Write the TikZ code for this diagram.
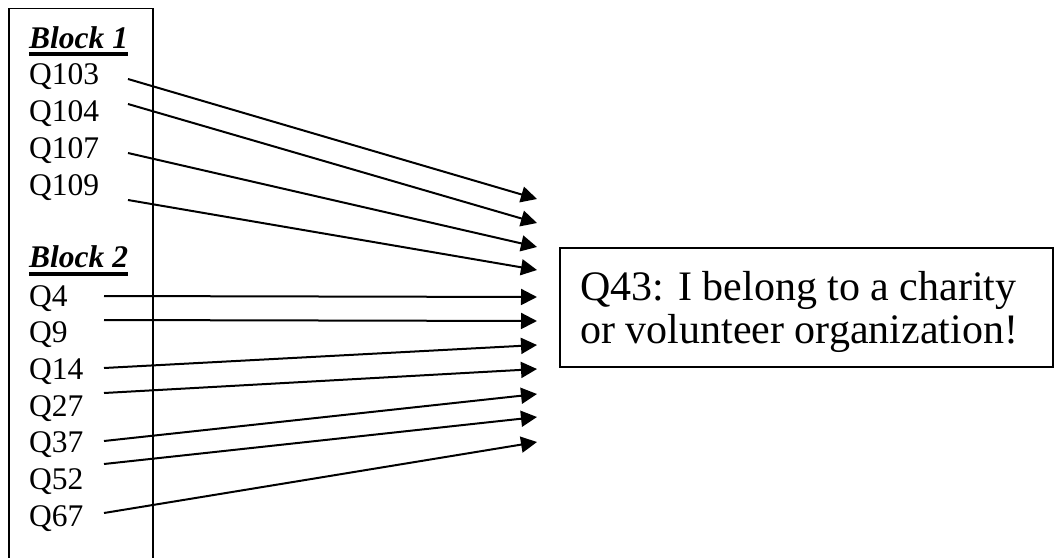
\documentclass[tikz,border=0pt]{standalone}
\usepackage{fontspec}
\setmainfont{Liberation Serif}
\usetikzlibrary{arrows.meta}
\begin{document}
\begin{tikzpicture}[x=1pt,y=-1pt,
  item/.style={anchor=base west,inner sep=0pt,font=\fontsize{31.5}{37}\selectfont},
  head/.style={item,font=\fontsize{31.5}{37}\selectfont\bfseries\itshape},
  frame/.style={line width=1.6pt},
  link/.style={line width=2pt,-{Triangle[length=16pt,width=16pt]}},
  rule/.style={line width=4pt}]
\useasboundingbox[fill=white] (0,0) rectangle (1055,557);
\clip (0,0) rectangle (1055,557);

% left column frame (open at the bottom)
\draw[frame] (9,560) -- (9,8.5) -- (153,8.5) -- (153,560);

% block headings with heavy underline
\node[head] (b1) at (29,48) {Block 1};
\draw[rule] ([yshift=-6pt]b1.base west) -- ([yshift=-6pt]b1.base east);
\node[head] (b2) at (29,267) {Block 2};
\draw[rule] ([yshift=-7pt]b2.base west) -- ([yshift=-7pt]b2.base east);

% question labels
\node[item] (q103) at (29,84)  {Q103};
\node[item] (q104) at (29,121) {Q104};
\node[item] (q107) at (29,158) {Q107};
\node[item] (q109) at (29,195) {Q109};
\node[item] (q4)   at (29,306) {Q4};
\node[item] (q9)   at (29,342) {Q9};
\node[item] (q14)  at (29,379) {Q14};
\node[item] (q27)  at (29,416) {Q27};
\node[item] (q37)  at (29,452) {Q37};
\node[item] (q52)  at (29,489) {Q52};
\node[item] (q67)  at (29,526) {Q67};

% target statement
\draw[frame] (560,248) rectangle (1053,367);
\node[item,font=\fontsize{42}{44}\selectfont] (t1) at (580,300) {Q43: I belong to a charity};
\node[item,font=\fontsize{42}{44}\selectfont] (t2) at (580,343) {or volunteer organization!};

% arrow start points
\coordinate (s103) at (128,79);
\coordinate (s104) at (128,104);
\coordinate (s107) at (128,153);
\coordinate (s109) at (128,200);
\coordinate (s4)   at (104,296);
\coordinate (s9)   at (104,320);
\coordinate (s14)  at (104,368);
\coordinate (s27)  at (104,393);
\coordinate (s37)  at (104,441);
\coordinate (s52)  at (104,464);
\coordinate (s67)  at (104,513);

% arrow tips, stacked in front of the statement
\coordinate (e1)  at (537,199);
\coordinate (e2)  at (537,223);
\coordinate (e3)  at (537,247);
\coordinate (e4)  at (537,270);
\coordinate (e5)  at (537,297);
\coordinate (e6)  at (537,321);
\coordinate (e7)  at (537,345);
\coordinate (e8)  at (537,369);
\coordinate (e9)  at (537,394);
\coordinate (e10) at (537,417);
\coordinate (e11) at (537,442);

\draw[link] (s103) -- (e1);
\draw[link] (s104) -- (e2);
\draw[link] (s107) -- (e3);
\draw[link] (s109) -- (e4);
\draw[link] (s4)   -- (e5);
\draw[link] (s9)   -- (e6);
\draw[link] (s14)  -- (e7);
\draw[link] (s27)  -- (e8);
\draw[link] (s37)  -- (e9);
\draw[link] (s52)  -- (e10);
\draw[link] (s67)  -- (e11);
\end{tikzpicture}
\end{document}
